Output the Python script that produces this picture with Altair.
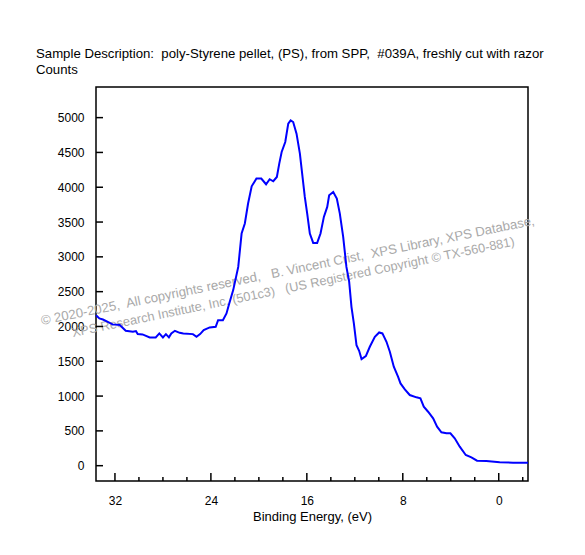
import altair as alt
import pandas as pd

# Binding energy (eV) and counts
energy = [33.58, 33.3, 33.0, 32.6, 32.2, 31.6, 31.1, 30.5, 30.25, 30.1, 29.7, 29.1, 28.6,
          28.3, 28.0, 27.75, 27.5, 27.3, 27.0, 26.6, 26.3, 25.5, 25.2, 24.9, 24.6, 24.1,
          23.6, 23.4, 23.0, 22.7, 22.47, 22.14, 21.72, 21.44, 21.17, 20.9, 20.6, 20.2,
          19.8, 19.4, 19.1, 18.8, 18.5, 18.3, 18.1, 17.8, 17.55, 17.35, 17.14, 16.86,
          16.58, 16.36, 16.17, 15.97, 15.75, 15.47, 15.14, 14.86, 14.58, 14.3, 14.14,
          13.8, 13.5, 13.25, 12.97, 12.7, 12.47, 12.28, 12.08, 11.86, 11.64, 11.44,
          11.08, 10.75, 10.33, 9.97, 9.7, 9.36, 9.08, 8.75, 8.39, 8.19, 7.83, 7.42,
          6.86, 6.53, 6.25, 5.89, 5.47, 5.14, 4.78, 4.36, 4.03, 3.67, 3.25, 2.75, 2.28,
          1.81, 1.03, -0.08, -1.19, -2.44]
counts = [2160, 2115, 2100, 2067, 2030, 2020, 1938, 1923, 1933, 1890, 1886, 1843, 1843,
          1900, 1843, 1890, 1843, 1900, 1938, 1909, 1900, 1890, 1851, 1890, 1947, 1986,
          1995, 2091, 2091, 2187, 2331, 2522, 2856, 3335, 3479, 3766, 4014, 4125,
          4125, 4043, 4115, 4086, 4148, 4340, 4506, 4650, 4914, 4961, 4937, 4770,
          4483, 4148, 3860, 3622, 3335, 3200, 3200, 3335, 3574, 3717, 3885,
          3932, 3837, 3622, 3286, 2856, 2640, 2282, 2044, 1732, 1650, 1531,
          1574, 1708, 1851, 1914, 1900, 1780, 1636, 1421, 1277, 1182, 1096, 1015,
          982, 967, 847, 775, 680, 560, 479, 465, 465, 393, 273, 154, 120,
          72, 67, 49, 43, 43]

x_major = [32, 24, 16, 8, 0]
x_minor = [30, 28, 26, 22, 20, 18, 14, 12, 10, 6, 4, 2, -2]
y_ticks = [0, 500, 1000, 1500, 2000, 2500, 3000, 3500, 4000, 4500, 5000]

title_lines = ["Sample Description:\u00a0 poly-Styrene pellet, (PS), from SPP,\u00a0 #039A, freshly cut with razor",
               "Counts"]
wm1 = "\u00a9 2020-2025,\u00a0 All copyrights reserved,\u00a0\u00a0 B. Vincent Crist,\u00a0 XPS Library, XPS Database,"
wm2 = "XPS Research Institute, Inc. (501c3)\u00a0\u00a0 (US Registered Copyright \u00a9 TX-560-881)"

FONT = "Liberation Sans"
W, H = 432, 394

df = pd.DataFrame({"energy": energy, "counts": counts})
xscale = alt.Scale(domain=[-2.44, 33.58], reverse=True, nice=False, zero=False)
yscale = alt.Scale(domain=[-220, 5440], nice=False, zero=False)

xaxis = alt.Axis(values=x_major, format="d", tickSize=0, domain=False, grid=False,
                 labelFont=FONT, labelFontSize=12, labelColor="black", labelPadding=14,
                 labelOverlap=False,
                 title="Binding Energy, (eV)", titleFont=FONT, titleFontSize=13,
                 titleFontWeight="normal", titleColor="black", titlePadding=4)
yaxis = alt.Axis(values=y_ticks, format="d", tickSize=0, domain=False, grid=False,
                 labelFont=FONT, labelFontSize=12, labelColor="black", labelPadding=12,
                 labelOverlap=False, title=None)

wm_color = "#a9a9a9"
wmark1 = alt.Chart(pd.DataFrame({"t": [wm1]})).mark_text(
    align="left", baseline="alphabetic", angle=348.5, font=FONT, fontSize=13.2, color=wm_color
).encode(x=alt.value(-54), y=alt.value(238), text="t:N")
wmark2 = alt.Chart(pd.DataFrame({"t": [wm2]})).mark_text(
    align="left", baseline="alphabetic", angle=348.3, font=FONT, fontSize=12.8, color=wm_color
).encode(x=alt.value(-23), y=alt.value(250), text="t:N")

line = alt.Chart(df).mark_line(color="#0000FF", strokeWidth=2).encode(
    x=alt.X("energy:Q", scale=xscale, axis=xaxis, title="Binding Energy, (eV)"),
    y=alt.Y("counts:Q", scale=yscale, axis=yaxis, title=None),
)

major = alt.Chart(pd.DataFrame({"energy": x_major})).mark_rule(color="black", strokeWidth=1.5).encode(
    x=alt.X("energy:Q", scale=xscale, axis=xaxis, title="Binding Energy, (eV)"),
    y=alt.value(H), y2=alt.value(H - 8))
minor = alt.Chart(pd.DataFrame({"energy": x_minor})).mark_rule(color="black", strokeWidth=1.5).encode(
    x=alt.X("energy:Q", scale=xscale, axis=xaxis, title="Binding Energy, (eV)"),
    y=alt.value(H), y2=alt.value(H - 4))
yt = alt.Chart(pd.DataFrame({"counts": y_ticks})).mark_rule(color="black", strokeWidth=1.5).encode(
    y=alt.Y("counts:Q", scale=yscale, axis=yaxis, title=None),
    x=alt.value(0), x2=alt.value(7))

chart = alt.layer(wmark1, wmark2, line, major, minor, yt).properties(
    width=W, height=H,
    title=alt.TitleParams(text=title_lines, anchor="start", frame="group", dx=-60,
                          font=FONT, fontSize=13.2, fontWeight="normal", color="black",
                          baseline="alphabetic", lineHeight=16, offset=0),
    autosize=alt.AutoSizeParams(type="none"),
    padding={"left": 88, "top": 79, "right": 41, "bottom": 60},
).configure(background="white").configure_view(stroke="black", strokeWidth=1.5)

chart.save("out.html", embed_options={"renderer": "svg", "actions": False})
